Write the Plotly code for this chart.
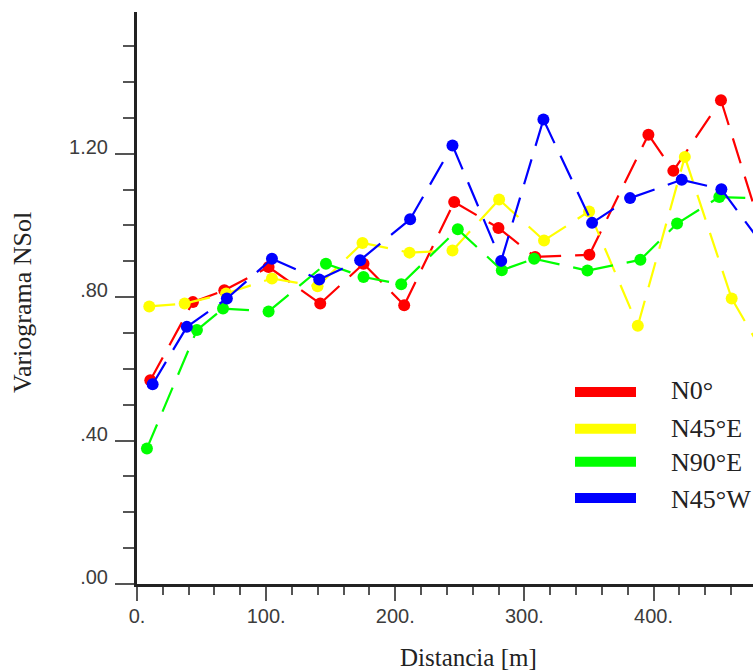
import plotly.graph_objects as go

# ---------------- data ----------------
series_names = ["N0°", "N45°E", "N90°E", "N45°W"]
series_colors = ["#ff0000", "#ffff00", "#00ff00", "#0000ff"]

n0_dist = [10.3, 43.3, 67.6, 101.9, 141.9, 175.4, 206.9, 245.6, 279.9, 308.3, 350.3, 396.0, 415.3, 452.2, 485.0]
n0_gamma = [0.568, 0.786, 0.819, 0.884, 0.782, 0.893, 0.777, 1.065, 0.993, 0.912, 0.918, 1.253, 1.152, 1.349, 0.970]

n45e_dist = [9.5, 36.9, 69.0, 104.5, 139.8, 174.6, 211.0, 244.3, 280.4, 315.2, 350.1, 387.8, 424.2, 460.5, 492.0]
n45e_gamma = [0.774, 0.782, 0.810, 0.852, 0.830, 0.951, 0.924, 0.930, 1.072, 0.958, 1.039, 0.720, 1.191, 0.796, 0.600]

n90e_dist = [7.7, 46.4, 66.6, 101.9, 146.3, 175.4, 204.6, 248.4, 282.5, 307.5, 348.8, 389.8, 418.2, 450.9, 488.0]
n90e_gamma = [0.378, 0.708, 0.768, 0.760, 0.893, 0.856, 0.836, 0.989, 0.875, 0.907, 0.874, 0.904, 1.005, 1.079, 1.075]

n45w_dist = [12.1, 38.6, 69.6, 104.5, 141.1, 172.8, 211.5, 244.3, 282.0, 314.7, 352.4, 381.8, 421.8, 452.5, 485.0]
n45w_gamma = [0.557, 0.717, 0.796, 0.907, 0.849, 0.903, 1.017, 1.223, 0.901, 1.295, 1.007, 1.076, 1.127, 1.101, 0.943]

y_tick_vals = [0.0, 0.4, 0.8, 1.2]
y_tick_text = [".00", ".40", ".80", "1.20"]
x_tick_vals = [0, 100, 200, 300, 400]
x_tick_text = ["0.", "100.", "200.", "300.", "400."]

x_title = "Distancia [m]"
y_title = "Variograma NSol"

all_x = [n0_dist, n45e_dist, n90e_dist, n45w_dist]
all_y = [n0_gamma, n45e_gamma, n90e_gamma, n45w_gamma]

# ---------------- figure ----------------
W, H = 753, 671
L, R, T, B = 137, 0, 12, 87
PW, PH = W - L - R, H - T - B

def px_x(p):
    return (p - L) / PW

def px_y(p):
    return (H - B - p) / PH

fig = go.Figure()

for name, color, xs, ys in zip(series_names, series_colors, all_x, all_y):
    for i in range(len(xs) - 1):
        fig.add_trace(go.Scatter(
            x=xs[i:i + 2], y=ys[i:i + 2], mode="lines",
            line=dict(color=color, width=2.2, dash="26px,14px"),
            showlegend=False, hoverinfo="skip"))
    fig.add_trace(go.Scatter(
        x=xs, y=ys, mode="markers", name=name,
        marker=dict(color=color, size=12, line=dict(width=0)),
        showlegend=False))

tick_font = dict(family="Liberation Sans, Arial, sans-serif", size=20, color="#3c3c3c")
serif = "Liberation Serif, Times New Roman, serif"

fig.update_xaxes(
    range=[0, 477], showgrid=False, zeroline=False,
    showline=True, linecolor="#222222", linewidth=3,
    ticks="outside", ticklen=14, tickwidth=2, tickcolor="#555555",
    tickvals=x_tick_vals, ticktext=x_tick_text, tickfont=tick_font,
    ticklabelstandoff=-2,
    minor=dict(dtick=20, tick0=0, ticks="outside", ticklen=8, tickwidth=2, tickcolor="#555555"),
)
fig.update_yaxes(
    range=[0, 1.595], showgrid=False, zeroline=False,
    showline=True, linecolor="#222222", linewidth=3,
    ticks="outside", ticklen=19, tickwidth=2, tickcolor="#555555",
    tickvals=y_tick_vals, ticktext=y_tick_text, tickfont=tick_font,
    ticklabelshift=-7, ticklabelstandoff=3,
    minor=dict(dtick=0.1, tick0=0, ticks="outside", ticklen=11, tickwidth=2, tickcolor="#555555"),
)

annotations = [
    dict(text=x_title, xref="paper", yref="paper", x=px_x(468), y=px_y(657),
         xanchor="center", yanchor="middle", showarrow=False,
         font=dict(family=serif, size=25, color="#222222")),
    dict(text=y_title, xref="paper", yref="paper", x=px_x(22), y=px_y(303),
         xanchor="center", yanchor="middle", showarrow=False, textangle=-90,
         font=dict(family=serif, size=26, color="#222222")),
]
shapes = []
bar_centers = [392, 428.7, 461.7, 498]
text_centers = [390.7, 429, 462.7, 499.3]
for name, color, bc, tc in zip(series_names, series_colors, bar_centers, text_centers):
    shapes.append(dict(type="rect", xref="paper", yref="paper",
                       x0=px_x(575), x1=px_x(636), y0=px_y(bc + 5), y1=px_y(bc - 5),
                       fillcolor=color, line=dict(width=0)))
    annotations.append(dict(text=name, xref="paper", yref="paper", x=px_x(669), y=px_y(tc),
                            xanchor="left", yanchor="middle", showarrow=False,
                            font=dict(family=serif, size=26, color="#222222")))

fig.update_layout(
    width=W, height=H,
    margin=dict(l=L, r=R, t=T, b=B, pad=0),
    paper_bgcolor="white", plot_bgcolor="white",
    showlegend=False,
    annotations=annotations, shapes=shapes,
)

fig.write_html("out.html")
